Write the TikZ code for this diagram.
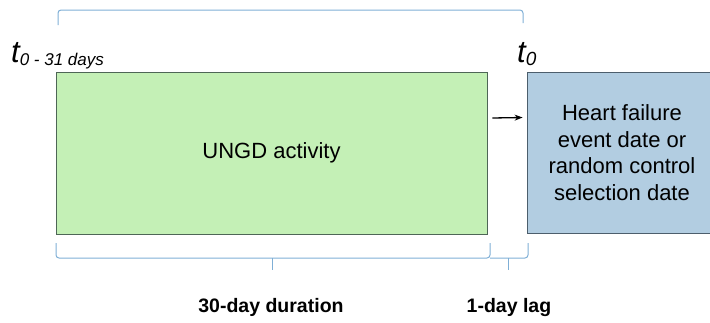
\documentclass[tikz,border=0pt]{standalone}
\usepackage{fontspec}
\setmainfont{Liberation Sans}
\usetikzlibrary{positioning,arrows.meta}
\definecolor{ungdGreen}{HTML}{C4F0B6}
\definecolor{ungdEdge}{HTML}{4E6656}
\definecolor{hfBlue}{HTML}{B2CDE1}
\definecolor{hfEdge}{HTML}{4C5E6C}
\definecolor{braceBlue}{HTML}{7FAFD6}

\begin{document}
\begin{tikzpicture}[x=1pt,y=-1pt,
    winbox/.style={draw,thick,inner sep=0pt,align=center,
      font=\fontsize{22}{26.7}\selectfont},
    brace/.style={braceBlue,line width=1pt,rounded corners=3pt},
    tlabel/.style={anchor=base west,inner sep=0pt,font=\itshape}]
  \useasboundingbox (0,0) rectangle (710,322);
  \node[winbox,draw=ungdEdge,fill=ungdGreen,minimum width=431pt,minimum height=162pt]
    (ungd) at (271.5,153) {UNGD activity};
  \node[winbox,draw=hfEdge,fill=hfBlue,minimum width=190pt,minimum height=161pt]
    (hf) at (622,152.5)
    {Heart failure\\event date or\\random control\\selection date};
  \draw[-{Stealth[length=8pt,width=6pt]},line width=1.3pt] ([xshift=5pt,yshift=35pt]ungd.east) -- ([xshift=-4pt,yshift=35pt]hf.west);
  % time marks
  \node[tlabel] (tstart) at (11,62) {\fontsize{31}{31}\selectfont t\raisebox{-3pt}{\fontsize{17}{17}\selectfont 0 - 31 days}};
  \node[tlabel] (tzero) at (517,62) {\fontsize{31}{31}\selectfont t\raisebox{-3pt}{\fontsize{19}{19}\selectfont 0}};
  \draw[brace] (58,25) -- (58,10) -- (523,10) -- (523,23);
  % duration braces
  \draw[brace] (56,243) -- (56,258) -- (490,258) -- (490,243);
  \draw[brace] (272,258) -- (272,270);
  \draw[brace] (490,258) -- (528,258) -- (528,243);
  \draw[brace] (508,258) -- (508,270);
  \node[font=\bfseries\fontsize{19.5}{20}\selectfont] (dur) at (271,307) {30-day duration};
  \node[font=\bfseries\fontsize{19.5}{20}\selectfont] (lag) at (509,307) {1-day lag};
\end{tikzpicture}
\end{document}
